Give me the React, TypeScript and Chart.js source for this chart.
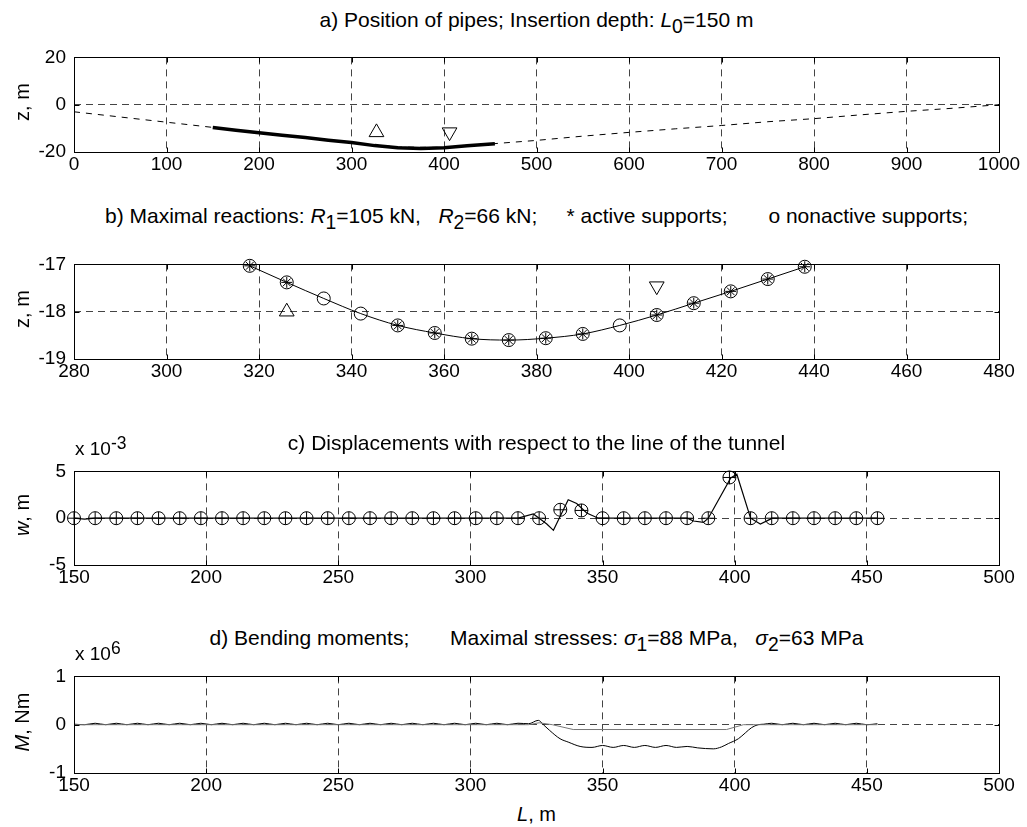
import React, { useEffect, useRef } from "react";
import { Chart, registerables } from "chart.js";
Chart.register(...registerables);

const FONT = '"Liberation Sans", Arial, Helvetica, sans-serif';

// ---------- Panel a: position of pipes ----------
const tunnelL = [0, 50, 100, 150, 200, 250, 300, 350, 400, 450, 500, 550, 600, 650, 700, 750, 800, 850, 900, 950, 1000];
const tunnelZ = [-3, -5.2, -7.4, -9.6, -11.9, -13.9, -16, -17.9, -18.1, -16.6, -15.1, -13.3, -11.7, -10.2, -8.8, -7.2, -5.9, -4.3, -2.8, -1.5, 0];
const pipeL = [150, 175, 200, 225, 250, 275, 300, 325, 350, 375, 400, 425, 455];
const pipeZ = [-9.6, -10.8, -11.9, -12.9, -13.9, -15, -16, -17.3, -18.2, -18.5, -18.2, -17.4, -16.5];
const aTriUp = { x: 327, y: -11.7 };
const aTriDown = { x: 406, y: -11.6 };

// ---------- Panel b: maximal reactions ----------
const bSuppL = [318, 326, 334, 342, 350, 358, 366, 374, 382, 390, 398, 406, 414, 422, 430, 438];
const bSuppZ = [-17.03, -17.38, -17.72, -18.04, -18.29, -18.45, -18.57, -18.6, -18.56, -18.47, -18.29, -18.07, -17.82, -17.57, -17.31, -17.05];
const bActive = [1, 1, 0, 0, 1, 1, 1, 1, 1, 1, 0, 1, 1, 1, 1, 1];
const bTriUp = { x: 326, y: -18.0 };
const bTriDown = { x: 406, y: -17.46 };

// ---------- Panel c: displacements (w in 1e-3 m) ----------
const cSuppL = [150, 158, 166, 174, 182, 190, 198, 206, 214, 222, 230, 238, 246, 254, 262, 270, 278, 286, 294, 302, 310, 318, 326, 334, 342, 350, 358, 366, 374, 382, 390, 398, 406, 414, 422, 430, 438, 446, 454];
const cSuppW = [0, 0, 0, 0, 0, 0, 0, 0, 0, 0, 0, 0, 0, 0, 0, 0, 0, 0, 0, 0, 0, 0, 0, 0.9, 0.83, 0, 0, 0, 0, 0, 0, 4.35, 0, 0, 0, 0, 0, 0, 0];
const cLineL = [150, 154, 158, 166, 174, 182, 190, 198, 206, 214, 222, 230, 238, 246, 254, 262, 270, 278, 286, 294, 302, 310, 318, 323.8, 326, 328.9, 331.4, 337, 340.2, 344, 348.4, 350, 358, 366, 374, 382, 384.4, 388.2, 390, 398.5, 400.8, 406, 409.7, 413.5, 414, 422, 430, 438, 446, 454];
const cLineW = [0, -0.1, 0, 0, 0, 0, 0, 0, 0, 0, 0, 0, 0, 0, 0, 0, 0, 0, 0, 0, 0, 0, 0, 0.45, 0, -0.62, -1.3, 1.97, 1.57, 0.55, 0, 0, 0, 0, 0, 0, -0.3, -0.45, 0, 4.3, 4.7, 0, -0.62, -0.1, 0, 0, 0, 0, 0, 0];

// ---------- Panel d: bending moments (M in 1e6 Nm) ----------
const dMainL = [150, 154, 158, 162, 166, 170, 174, 178, 182, 186, 190, 194, 198, 202, 206, 210, 214, 218, 222, 226, 230, 234, 238, 242, 246, 250, 254, 258, 262, 266, 270, 274, 278, 282, 286, 290, 294, 298, 302, 306, 310, 314, 318, 322, 325.7, 327.6, 330, 333.9, 337, 341.5, 346, 350, 354, 358, 362, 366, 370, 374, 378, 382, 386, 391.9, 395, 397.6, 401.4, 404, 406.4, 408.9, 411, 414, 418, 422, 426, 430, 434, 438, 442, 446, 450, 454];
const dMainM = [0.01, 0, 0.03, 0, 0.03, 0, 0.03, 0, 0.03, 0, 0.03, 0, 0.03, 0, 0.03, 0, 0.03, 0, 0.03, 0, 0.03, 0, 0.03, 0, 0.03, 0, 0.03, 0, 0.03, 0, 0.03, 0, 0.03, 0, 0.03, 0, 0.03, 0, 0.03, 0, 0.03, 0, 0.03, 0.02, 0.09, 0.0, -0.12, -0.29, -0.36, -0.45, -0.47, -0.43, -0.47, -0.43, -0.47, -0.43, -0.47, -0.43, -0.47, -0.45, -0.48, -0.5, -0.46, -0.39, -0.29, -0.17, -0.06, 0, 0.01, 0.03, 0, 0.03, 0, 0.03, 0, 0.03, 0, 0.03, 0, 0.02];
const dSecL = [150, 322, 326, 331, 338.9, 396.9, 403.3, 408, 454];
const dSecM = [0, 0, 0.04, 0, -0.1, -0.1, 0, 0, 0];

const pts = (xs: number[], ys: number[]) => xs.map((x, i) => ({ x, y: ys[i] }));

const boxPlugin = {
  id: "matlabBox",
  afterDraw(chart: any) {
    const { ctx, chartArea: a, scales } = chart;
    const L = Math.round(a.left) + 0.5, R = Math.round(a.right) + 0.5;
    const T = Math.round(a.top) + 0.5, B = Math.round(a.bottom) + 0.5;
    ctx.save();
    ctx.setLineDash([]);
    ctx.strokeStyle = "#000";
    ctx.lineWidth = 1;
    ctx.beginPath();
    const tl = 5;
    scales.x.ticks.forEach((t: any) => {
      const px = Math.round(scales.x.getPixelForValue(t.value)) + 0.5;
      ctx.moveTo(px, B); ctx.lineTo(px, B - tl);
      ctx.moveTo(px, T); ctx.lineTo(px, T + tl);
    });
    scales.y.ticks.forEach((t: any) => {
      const py = Math.round(scales.y.getPixelForValue(t.value)) + 0.5;
      ctx.moveTo(L, py); ctx.lineTo(L + tl, py);
      ctx.moveTo(R, py); ctx.lineTo(R - tl, py);
    });
    ctx.stroke();
    ctx.strokeRect(L, T, R - L, B - T);
    ctx.restore();
  },
};

function axis(min: number, max: number, step: number, isX: boolean) {
  return {
    type: "linear",
    min, max,
    ticks: {
      stepSize: step,
      autoSkip: false,
      maxRotation: 0,
      padding: isX ? 1 : 8,
      color: "#000",
      font: { family: FONT, size: 19 },
      callback: (v: any) => String(Math.round(v * 1000) / 1000),
    },
    grid: { color: "#444", lineWidth: 1, drawTicks: false },
    border: { display: false, dash: [7, 5] },
    afterFit: (s: any) => {
      if (isX) s.height = 30; else s.width = 74;
    },
  };
}

function options(xr: number[], yr: number[]) {
  return {
    responsive: false,
    animation: false,
    devicePixelRatio: 1,
    events: [],
    layout: { padding: { top: 14, right: 28, left: 0, bottom: 0 } },
    plugins: { legend: { display: false }, tooltip: { enabled: false }, title: { display: false } },
    scales: { x: axis(xr[0], xr[1], xr[2], true), y: axis(yr[0], yr[1], yr[2], false) },
  };
}

const lineDs = (xs: number[], ys: number[], extra: any = {}) => ({
  data: pts(xs, ys), showLine: true, borderColor: "#000", borderWidth: 1, pointRadius: 0, clip: false, ...extra,
});
const markDs = (data: any[], style: string, radius: number, extra: any = {}) => ({
  data, showLine: false, pointStyle: style, pointRadius: radius, pointBorderColor: "#000",
  pointBackgroundColor: "rgba(0,0,0,0)", pointBorderWidth: 1, clip: false, ...extra,
});

function configA() {
  return {
    type: "scatter",
    data: {
      datasets: [
        lineDs(tunnelL, tunnelZ, { borderDash: [6, 6] }),
        lineDs(pipeL, pipeZ, { borderWidth: 3.5 }),
        markDs([aTriUp], "triangle", 8.5),
        markDs([aTriDown], "triangle", 8.5, { pointRotation: 180 }),
      ],
    },
    options: options([0, 1000, 100], [-20, 20, 20]),
    plugins: [boxPlugin],
  };
}

function configB() {
  const all = pts(bSuppL, bSuppZ);
  const active = all.filter((_, i) => bActive[i] === 1);
  return {
    type: "scatter",
    data: {
      datasets: [
        lineDs(bSuppL, bSuppZ, { cubicInterpolationMode: "monotone" }),
        markDs(all, "circle", 6.5),
        markDs(active, "star", 5.5),
        markDs([bTriUp], "triangle", 8.5),
        markDs([bTriDown], "triangle", 8.5, { pointRotation: 180 }),
      ],
    },
    options: options([280, 480, 20], [-19, -17, 1]),
    plugins: [boxPlugin],
  };
}

function configC() {
  const sp = pts(cSuppL, cSuppW);
  return {
    type: "scatter",
    data: {
      datasets: [
        lineDs(cLineL, cLineW, { borderWidth: 1.2 }),
        markDs(sp, "circle", 6.5),
        markDs(sp, "cross", 6.5),
      ],
    },
    options: options([150, 500, 50], [-5, 5, 5]),
    plugins: [boxPlugin],
  };
}

function configD() {
  return {
    type: "scatter",
    data: {
      datasets: [
        lineDs(dSecL, dSecM, { borderColor: "#777" }),
        lineDs(dMainL, dMainM, { cubicInterpolationMode: "monotone" }),
      ],
    },
    options: options([150, 500, 50], [-1, 1, 1]),
    plugins: [boxPlugin],
  };
}

function Panel({ top, height, build }: { top: number; height: number; build: () => any }) {
  const ref = useRef<HTMLCanvasElement>(null);
  useEffect(() => {
    const chart = new Chart(ref.current as HTMLCanvasElement, build());
    return () => chart.destroy();
  }, []);
  return (
    <canvas
      ref={ref}
      width={1027}
      height={height}
      style={{ position: "absolute", left: 0, top, width: 1027, height }}
    />
  );
}

const T: React.CSSProperties = {
  position: "absolute",
  fontFamily: FONT,
  color: "#000",
  whiteSpace: "pre",
  lineHeight: 1,
};
const Sub = ({ children }: { children: React.ReactNode }) => (
  <span style={{ position: "relative", top: "0.3em", fontSize: "0.92em" }}>{children}</span>
);
const Sup = ({ children }: { children: React.ReactNode }) => (
  <span style={{ position: "relative", top: "-0.35em", fontSize: "0.92em" }}>{children}</span>
);

function Title({ top, children }: { top: number; children: React.ReactNode }) {
  return (
    <div style={{ ...T, left: 74, width: 925, top, textAlign: "center", fontSize: 21 }}>{children}</div>
  );
}

function YLabel({ cy, children }: { cy: number; children: React.ReactNode }) {
  return (
    <div
      style={{
        ...T,
        left: 22,
        top: cy,
        fontSize: 20,
        transform: "translate(-50%, -50%) rotate(-90deg)",
      }}
    >
      {children}
    </div>
  );
}

export default function App() {
  return (
    <div style={{ position: "absolute", left: 0, top: 0, width: 1027, height: 827, background: "#fff", overflow: "hidden" }}>
      <Panel top={38} height={144} build={configA} />
      <Panel top={245} height={144} build={configB} />
      <Panel top={452} height={143} build={configC} />
      <Panel top={657} height={146} build={configD} />

      <Title top={9}>
        a) Position of pipes; Insertion depth: <i>L</i><Sub>0</Sub>=150 m
      </Title>
      <Title top={205}>
        b) Maximal reactions: <i>R</i><Sub>1</Sub>=105 kN,   <i>R</i><Sub>2</Sub>=66 kN;     * active supports;       o nonactive supports;
      </Title>
      <Title top={432}>c) Displacements with respect to the line of the tunnel</Title>
      <Title top={627}>
        d) Bending moments;       Maximal stresses: <i>σ</i><Sub>1</Sub>=88 MPa,   <i>σ</i><Sub>2</Sub>=63 MPa
      </Title>

      <YLabel cy={102}>z, m</YLabel>
      <YLabel cy={309}>z, m</YLabel>
      <YLabel cy={515}><i>w</i>, m</YLabel>
      <YLabel cy={722}><i>M</i>, Nm</YLabel>

      <div style={{ ...T, left: 75, top: 439, fontSize: 19 }}>
        x 10<Sup>-3</Sup>
      </div>
      <div style={{ ...T, left: 75, top: 644, fontSize: 19 }}>
        x 10<Sup>6</Sup>
      </div>

      <div style={{ ...T, left: 74, width: 925, top: 804, textAlign: "center", fontSize: 20 }}>
        <i>L</i>, m
      </div>
    </div>
  );
}
